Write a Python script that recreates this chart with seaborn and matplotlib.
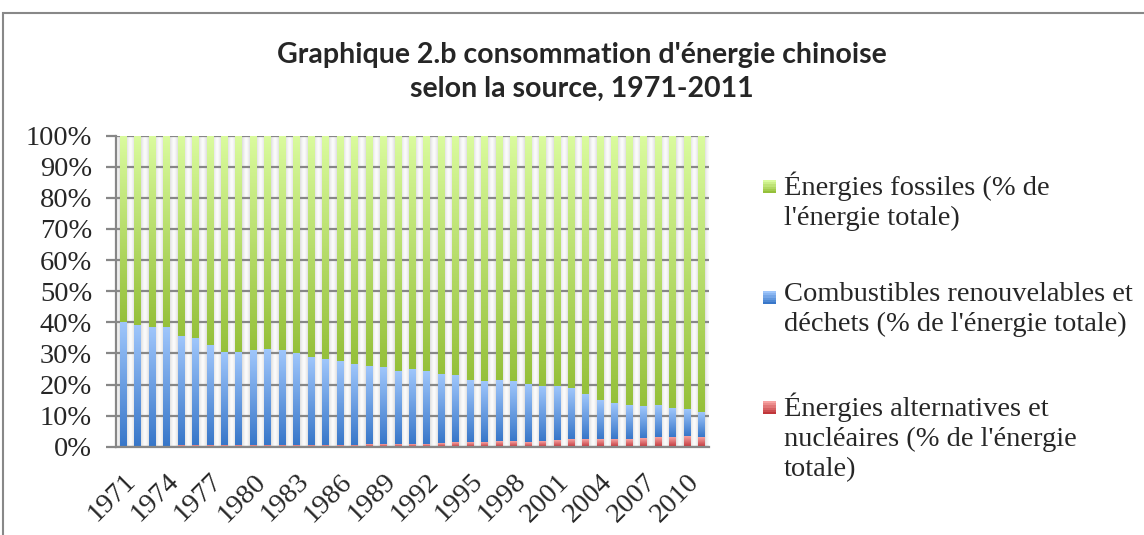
import numpy as np
import pandas as pd
import matplotlib
matplotlib.use("Agg")
import matplotlib.pyplot as plt
import seaborn as sns
from matplotlib.patches import Rectangle
from matplotlib.colors import LinearSegmentedColormap
import matplotlib.transforms as mtransforms

# ---------------- data ----------------
years = list(range(1971, 2012))
alternatives = [0.3, 0.3, 0.3, 0.3, 0.4, 0.4, 0.4, 0.4, 0.4, 0.4,
                0.5, 0.5, 0.6, 0.6, 0.6, 0.6, 0.6, 0.8, 0.9, 0.9,
                0.9, 0.9, 1.1, 1.4, 1.5, 1.5, 1.7, 1.7, 1.6, 1.7,
                2.2, 2.4, 2.4, 2.5, 2.5, 2.5, 2.8, 3.1, 3.1, 3.4, 3.2]
renewables = [39.7, 38.6, 38.2, 38.0, 34.9, 34.2, 32.0, 29.6, 29.6, 30.3,
              30.8, 30.4, 29.5, 28.0, 27.6, 26.9, 26.0, 24.8, 24.6, 23.2,
              24.0, 23.3, 22.0, 21.3, 19.8, 19.3, 19.3, 19.1, 18.6, 17.6,
              17.1, 16.2, 14.2, 12.3, 11.4, 10.7, 10.1, 10.0, 9.3, 8.5, 8.0]
fossil = [60.0, 61.1, 61.5, 61.7, 64.7, 65.4, 67.6, 70.0, 70.0, 69.3,
          68.7, 69.1, 69.9, 71.4, 71.8, 72.5, 73.4, 74.4, 74.5, 75.9,
          75.1, 75.8, 76.9, 77.3, 78.7, 79.2, 79.0, 79.2, 79.8, 80.7,
          80.7, 81.4, 83.4, 85.2, 86.1, 86.8, 87.1, 86.9, 87.6, 88.1, 88.8]
series_labels = ["Énergies fossiles (% de\nl'énergie totale)",
                 "Combustibles renouvelables et\ndéchets (% de l'énergie totale)",
                 "Énergies alternatives et\nnucléaires (% de l'énergie\ntotale)"]
title = "Graphique 2.b consommation d'énergie chinoise\nselon la source, 1971-2011"
y_ticks = list(range(0, 101, 10))
y_tick_labels = [f"{v}%" for v in y_ticks]

# ---------------- styling ----------------
grad_red = ("#c0363a", "#f7a3a2")
grad_blue = ("#3877c9", "#9fc6fb")
grad_green = ("#95c03a", "#dafb9e")
GRID = "#878787"
SERIF = ["Liberation Serif", "DejaVu Serif"]

sns.set_theme(style="white")
plt.rcParams["font.family"] = SERIF

fig = plt.figure(figsize=(11.44, 5.35), dpi=100)
ax = fig.add_axes([115.7 / 1144, 1 - 446.7 / 535, (708.5 - 115.7) / 1144, (446.7 - 135.7) / 535])

df = pd.DataFrame({"year": [str(y) for y in years],
                   "alt": alternatives,
                   "ren": renewables,
                   "fos": fossil})
df["cum1"] = df["alt"]
df["cum2"] = df["alt"] + df["ren"]
df["cum3"] = df["cum2"] + df["fos"]

layers = [("cum3", "cum2", grad_green), ("cum2", "cum1", grad_blue), ("cum1", None, grad_red)]
BW = 0.43
n = len(df)
grad = np.linspace(0, 1, 128).reshape(-1, 1)
for li, (top_col, bot_col, (c0, c1)) in enumerate(layers):
    before = len(ax.patches)
    sns.barplot(data=df, x="year", y=top_col, color=c1, width=BW, ax=ax,
                saturation=1, edgecolor="none", linewidth=0, zorder=2 + li)
    patches = ax.patches[before:]
    cmap = LinearSegmentedColormap.from_list(f"g{li}", [c0, c1])
    tops = df[top_col].to_numpy()
    bots = df[bot_col].to_numpy() if bot_col else np.zeros(n)
    for i, p in enumerate(patches):
        p.set_alpha(0)
        x0, w = p.get_x(), p.get_width()
        ax.imshow(grad, extent=[x0, x0 + w, bots[i], tops[i]], origin="lower",
                  aspect="auto", cmap=cmap, zorder=2 + li, interpolation="bilinear")

# background shading between bars
xs = np.linspace(-0.5, n - 0.5, n * 60)
u = (xs + 0.5) % 1.0
d = np.minimum(u, 1 - u) / (0.5 - BW / 2)
g = np.clip(0.985 - 0.12 * d ** 1.5, 0, 1)
bg = np.tile(g, (2, 1))
ax.imshow(bg, extent=[-0.5, n - 0.5, 0, 100], aspect="auto", cmap="gray",
          vmin=0, vmax=1, zorder=0, interpolation="bilinear")

ax.set_xlim(-0.5, n - 0.5)
ax.set_ylim(0, 100)
ax.set_xlabel("")
ax.set_ylabel("")

# grid
ax.set_yticks(y_ticks)
ax.set_yticklabels(y_tick_labels, fontsize=20.5)
for v in y_ticks:
    ax.axhline(v, color=GRID, lw=1.6, zorder=1)
ax.grid(False)

# ticks
ax.set_xticks(range(0, n, 3))
ax.set_xticklabels([str(y) for y in years[::3]], rotation=45, ha="right",
                   rotation_mode="anchor", fontsize=20.5)
shift = mtransforms.ScaledTranslation(-5 / 100, 0, fig.dpi_scale_trans)
for lab in ax.get_xticklabels():
    lab.set_transform(lab.get_transform() + shift)
ax.set_xticks(np.arange(-0.5, n, 1.0), minor=True)
ax.tick_params(axis="x", which="major", length=0, pad=16)
ax.tick_params(axis="x", which="minor", length=7, width=1.6, color=GRID, direction="out")
ax.tick_params(axis="y", which="major", length=7, width=1.6, color=GRID, direction="out", pad=10, left=True)
for s in ["top", "right"]:
    ax.spines[s].set_visible(False)
for s in ["left", "bottom"]:
    ax.spines[s].set_color(GRID)
    ax.spines[s].set_linewidth(1.6)
    ax.spines[s].set_zorder(6)

# title
fig.text(582 / 1144, 1 - 72 / 535, title, ha="center", va="center",
         fontsize=20.5, fontweight="bold", family=["Lato", "DejaVu Sans"], linespacing=1.35)

# legend (manual, square markers aligned with first line)
leg_y = [186, 297, 407]
leg_cols = [grad_green, grad_blue, grad_red]
nb = 6
for yy, lab, (c0, c1) in zip(leg_y, series_labels, leg_cols):
    cm = LinearSegmentedColormap.from_list("leg", [c0, c1])
    for k in range(nb):
        fig.patches.append(Rectangle((763 / 1144, 1 - (yy + 7 - 13 * k / nb) / 535), 13 / 1144, 13 / nb / 535 + 0.0005,
                                     transform=fig.transFigure, facecolor=cm(k / (nb - 1)), edgecolor="none"))
    fig.text(784 / 1144, 1 - (yy - 15) / 535, lab, ha="left", va="top",
             fontsize=20.5, linespacing=1.27)

# chart border
fig.patches.append(Rectangle((3 / 1144, -0.05), 1.1, 1 - 13 / 535 + 0.05,
                             transform=fig.transFigure, fill=False,
                             edgecolor="#888888", linewidth=1.5))

fig.savefig("out.png", dpi=100)
